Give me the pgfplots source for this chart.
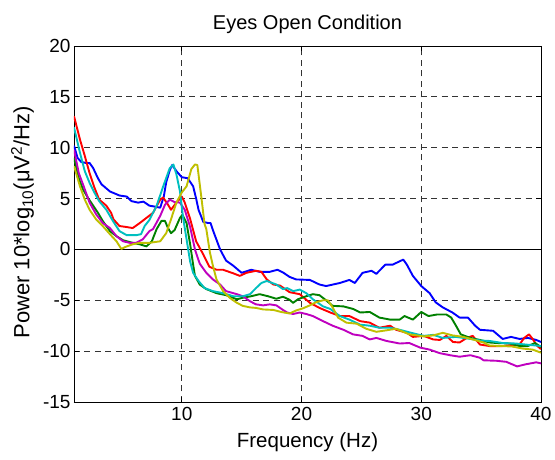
\documentclass[border=0pt]{standalone}
\usepackage{fontspec}
\setmainfont{Liberation Sans}
\usepackage{pgfplots}
\pgfplotsset{compat=1.18}

\definecolor{mblue}{rgb}{0,0,1}
\definecolor{mred}{rgb}{1,0,0}
\definecolor{mgreen}{rgb}{0,0.5,0}
\definecolor{mcyan}{rgb}{0,0.75,0.75}
\definecolor{mmag}{rgb}{0.75,0,0.75}
\definecolor{myel}{rgb}{0.75,0.75,0}

\begin{document}
\begin{tikzpicture}
\begin{axis}[
  scale only axis, width=467pt, height=356pt,
  at={(0,0)}, anchor=south west,
  xmin=1, xmax=40, ymin=-15, ymax=20,
  xtick={10,20,30,40}, ytick={-15,-10,...,20},
  grid=major,
  grid style={black!80, line width=0.8pt, dash pattern=on 6pt off 4.5pt},
  axis line style={black, line width=0.9pt},
  tick align=inside, major tick length=5pt,
  tick style={black, line width=0.8pt},
  /pgf/number format/assume math mode=true,
  tick label style={font=\fontsize{19}{21}\selectfont},
  xticklabel style={yshift=-2pt},
  title={Eyes Open Condition},
  title style={font=\fontsize{20}{22}\selectfont, at={(axis description cs:0.5,1.045)}, anchor=center},
  xlabel={Frequency (Hz)},
  xlabel style={font=\fontsize{20.5}{23}\selectfont, at={(axis description cs:0.5,-0.112)}, anchor=center},
  ylabel={Power 10*log\textsubscript{10}(μV\textsuperscript{2}/Hz)},
  ylabel style={font=\fontsize{22}{24}\selectfont, at={(axis description cs:-0.11,0.505)}, anchor=center},
  every axis plot/.append style={line width=1.9pt, line join=round},
]
\addplot[black, line width=0.9pt] coordinates {(1,0)(40,0)};

% blue
\addplot[mblue] coordinates {
(1,10.2)(1.3,9.0)(1.6,8.6)(2,8.5)(2.3,8.5)(2.6,8.0)(3,7.0)(3.3,6.4)(3.7,6.0)(4,5.7)(4.4,5.5)(4.8,5.3)(5.4,5.2)(5.8,4.75)(6.35,4.6)(6.8,4.7)(7.3,4.3)(7.8,4.2)(8.2,4.1)(8.5,5.2)(8.7,6.6)(9.0,7.8)(9.2,8.3)(9.55,7.7)(10,7.1)(10.5,7.0)(10.95,6.2)(11.2,5.0)(11.4,3.9)(11.8,2.7)(12.2,2.6)(12.4,2.6)(12.6,1.9)(13.2,0.0)(13.7,-1.1)(14.3,-1.6)(15,-2.3)(15.8,-2.0)(16.5,-2.2)(17.35,-2.2)(18,-2.0)(18.5,-2.3)(19,-2.7)(19.55,-2.95)(20.7,-3.0)(21.5,-3.45)(22.05,-3.6)(23.2,-3.3)(24,-3.0)(24.45,-3.3)(25.1,-2.3)(25.85,-2.1)(26.25,-2.4)(27,-1.5)(27.6,-1.5)(28.5,-1.0)(28.8,-1.5)(29.3,-2.6)(30,-3.6)(30.7,-4.3)(31.2,-5.2)(31.8,-5.7)(32.6,-6.2)(33.2,-6.7)(33.9,-6.7)(34.5,-7.5)(34.9,-7.9)(36,-8.0)(36.8,-8.8)(37.5,-8.6)(38.2,-8.8)(38.9,-8.7)(39.6,-8.9)(40,-9.1)
};
% red
\addplot[mred] coordinates {
(1,13.1)(1.5,10.8)(1.9,9.2)(2.3,7.5)(2.7,6.1)(3.1,4.9)(3.7,4.3)(4.1,3.6)(4.3,2.95)(4.8,2.3)(5.4,2.2)(5.9,2.1)(6.5,2.6)(7.05,3.1)(7.6,3.6)(8.2,4.9)(8.45,5.1)(8.85,4.4)(9.1,3.9)(9.55,4.6)(10,5.2)(10.25,4.6)(10.7,3.0)(11.2,0.8)(11.8,-0.5)(12.3,-1.7)(12.9,-2.0)(13.45,-2.0)(14.3,-2.35)(14.85,-2.6)(15.4,-2.3)(16.2,-2.1)(16.65,-2.2)(17.1,-2.95)(17.65,-3.45)(18.2,-3.55)(19,-4.2)(19.85,-4.4)(20.7,-5.25)(21.5,-5.75)(22.4,-6.2)(23.2,-6.55)(24,-6.55)(24.9,-7.05)(25.7,-7.2)(26.5,-7.7)(27.4,-7.5)(27.9,-7.9)(28.8,-8.2)(29.3,-8.6)(30.2,-8.5)(31,-8.85)(31.55,-8.9)(32.1,-8.5)(32.65,-9.1)(33.2,-9.15)(33.8,-8.7)(34.3,-8.5)(34.9,-9.35)(35.7,-9.5)(36.8,-9.5)(37.6,-9.4)(38.2,-9.35)(38.6,-8.7)(39.0,-8.35)(39.3,-8.8)(39.7,-9.5)(40,-9.8)
};
% green
\addplot[mgreen] coordinates {
(1,9.0)(1.4,7.0)(1.75,5.9)(2.15,5.1)(2.6,4.3)(3.0,3.6)(3.4,2.8)(4,1.8)(4.55,1.3)(5.1,0.9)(5.9,0.65)(6.5,0.5)(7.05,0.3)(7.5,0.8)(7.9,2.0)(8.3,2.8)(8.6,2.8)(8.85,2.1)(9.1,1.6)(9.4,1.9)(9.85,3.1)(10.05,3.4)(10.4,2.6)(10.7,0.5)(10.95,-1.5)(11.1,-2.6)(11.5,-3.45)(12.05,-3.9)(12.9,-4.3)(13.7,-4.5)(14.6,-4.9)(15.1,-4.75)(15.8,-4.6)(16.5,-4.4)(17.2,-4.6)(17.9,-4.85)(18.45,-4.65)(19,-4.95)(19.3,-5.25)(19.7,-4.9)(20.4,-4.6)(20.95,-4.4)(21.5,-4.5)(22.05,-5.0)(22.6,-5.55)(23.5,-5.6)(24.3,-5.85)(24.9,-6.2)(25.7,-6.15)(26.5,-6.7)(27.4,-6.9)(28.2,-6.9)(28.6,-6.55)(29.3,-6.9)(30,-6.15)(30.6,-6.55)(31.3,-6.4)(32.1,-6.4)(32.5,-6.7)(32.9,-7.5)(33.3,-8.35)(34.1,-8.7)(34.9,-8.9)(35.7,-9.15)(36.3,-9.2)(37.4,-9.25)(38.2,-9.5)(38.9,-9.5)(39.5,-9.2)(40,-9.6)
};
% magenta
\addplot[mmag] coordinates {
(1,9.8)(1.4,7.5)(1.75,6.4)(2.3,4.6)(2.85,3.45)(3.4,2.6)(4,2.1)(4.55,1.3)(5.1,0.8)(5.65,0.65)(6.2,0.65)(6.75,1.0)(7.3,1.8)(7.6,2.0)(8.2,3.3)(8.6,4.4)(9.0,4.9)(9.4,4.65)(9.85,4.6)(10.25,3.9)(10.7,2.2)(11.1,0.0)(11.5,-1.4)(12.05,-2.3)(12.6,-2.95)(13.2,-3.45)(13.7,-4.1)(14.6,-4.4)(15.1,-4.6)(15.7,-5.1)(16.2,-5.4)(16.8,-5.5)(17.35,-5.4)(17.9,-5.5)(18.45,-5.95)(18.8,-6.2)(19.3,-6.35)(19.85,-6.2)(20.4,-6.35)(20.95,-6.55)(21.8,-7.05)(22.6,-7.5)(23.5,-7.9)(24.3,-8.35)(25.1,-8.5)(25.7,-8.85)(26.25,-8.7)(27.1,-9.0)(28.2,-9.25)(29,-9.2)(29.9,-9.65)(30.7,-9.85)(31.55,-10.2)(32.4,-10.4)(33.2,-10.55)(34.1,-10.4)(34.9,-10.65)(35.2,-10.9)(36.3,-10.95)(37.1,-11.05)(38,-11.5)(38.7,-11.3)(39.6,-11.1)(40,-11.2)
};
% cyan
\addplot[mcyan] coordinates {
(1,12.0)(1.5,9.5)(1.9,7.7)(2.3,6.55)(2.7,5.6)(3.1,4.75)(3.7,3.9)(4.25,2.8)(4.8,1.8)(5.4,1.4)(6.2,1.4)(6.6,1.5)(6.9,2.3)(7.3,2.9)(7.9,4.3)(8.45,6.2)(9.0,8.0)(9.3,8.35)(9.55,7.4)(9.85,5.7)(10.1,3.2)(10.4,1.0)(10.7,-1.2)(10.95,-2.3)(11.4,-3.1)(11.9,-3.8)(12.6,-4.1)(13.45,-4.3)(14.3,-4.6)(15.1,-4.6)(15.7,-4.4)(16.2,-3.8)(16.65,-3.3)(17.1,-3.1)(17.9,-3.45)(18.45,-3.9)(18.8,-3.8)(19.3,-4.1)(19.85,-3.95)(20.4,-4.3)(20.95,-4.9)(21.8,-5.6)(22.4,-5.85)(23.2,-6.55)(24,-6.9)(24.9,-7.4)(25.7,-7.5)(26.5,-7.7)(27.4,-7.7)(28.2,-7.9)(29,-8.15)(30.2,-8.5)(31,-8.4)(31.8,-8.7)(32.9,-8.6)(34.1,-8.8)(34.9,-8.95)(35.7,-9.0)(36.8,-9.2)(37.9,-9.25)(38.7,-9.35)(39.6,-9.45)(40,-9.5)
};
% yellow
\addplot[myel] coordinates {
(1,8.2)(1.5,6.2)(1.9,4.9)(2.3,3.9)(2.85,2.95)(3.4,2.3)(4,1.5)(4.55,0.8)(4.95,0.05)(5.4,0.3)(5.9,0.5)(6.5,0.65)(7.3,0.65)(8.2,0.8)(8.7,1.6)(9.1,2.95)(9.55,4.6)(10,5.6)(10.4,6.2)(10.8,7.9)(11.1,8.35)(11.3,8.3)(11.65,5.0)(11.9,2.5)(12.05,2.0)(12.35,-0.3)(12.6,-1.6)(12.9,-2.95)(13.45,-4.1)(14,-4.75)(14.6,-5.25)(15.1,-5.55)(15.7,-5.7)(16.2,-5.75)(16.8,-5.9)(17.65,-5.95)(18.3,-6.15)(19,-6.3)(19.55,-6.0)(20.1,-5.8)(20.7,-5.5)(21.2,-5.2)(21.8,-5.0)(22.2,-5.0)(22.6,-5.7)(23.05,-6.7)(23.75,-7.2)(24.6,-7.3)(25.4,-7.8)(26.25,-8.1)(27.1,-7.95)(27.9,-7.8)(29,-8.35)(30.2,-8.55)(31,-8.45)(31.8,-8.2)(32.6,-8.45)(33.5,-8.6)(34.3,-8.85)(35.2,-9.15)(35.7,-9.45)(36.8,-9.5)(37.6,-9.55)(38.5,-9.75)(39.3,-9.85)(40,-10.15)
};
\end{axis}
\pgfresetboundingbox
\path[use as bounding box] (-74pt,-58pt) rectangle (481pt,402pt);
\end{tikzpicture}
\end{document}
